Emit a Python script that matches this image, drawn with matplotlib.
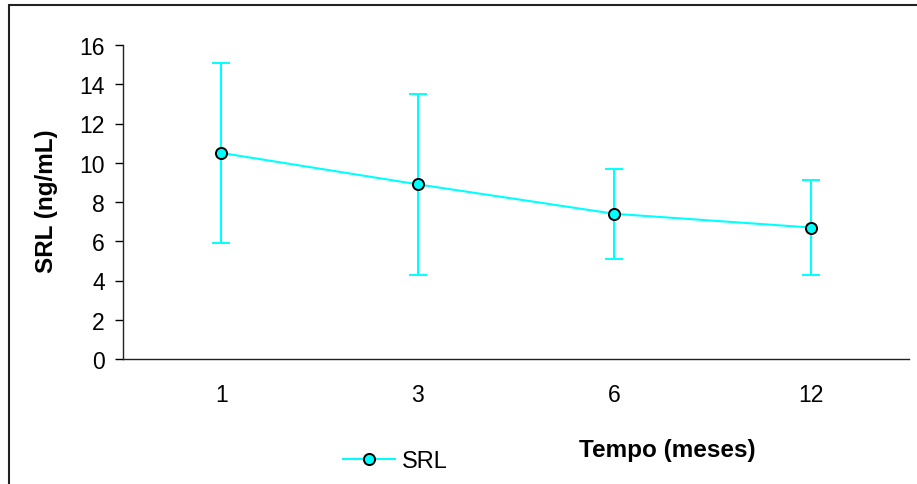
import matplotlib
matplotlib.use("Agg")
import matplotlib.pyplot as plt
from matplotlib.patches import Rectangle
from matplotlib.lines import Line2D

# data
months = ["1", "3", "6", "12"]
srl_mean = [10.5, 8.9, 7.4, 6.7]
srl_err = [4.6, 4.6, 2.3, 2.4]
yticks = [0, 2, 4, 6, 8, 10, 12, 14, 16]

cyan = "#00FFFF"
plt.rcParams["font.family"] = ["Liberation Sans", "DejaVu Sans"]

W, H = 917, 485
fig = plt.figure(figsize=(W / 100, H / 100), dpi=100)
ax = fig.add_axes([123 / W, 1 - 360 / H, (909 - 123) / W, (360 - 46) / H])

x = list(range(len(months)))
ax.errorbar(x, srl_mean, yerr=srl_err, color=cyan, lw=1.5, ecolor=cyan,
            elinewidth=1.5, capsize=6.5, capthick=1.5,
            marker="o", ms=8, mfc=cyan, mec="black", mew=1.4, zorder=3)

ax.set_xlim(-0.5, 3.5)
ax.set_ylim(0, 16)
ax.set_xticks(x)
ax.set_xticklabels(months)
ax.set_yticks(yticks)
ax.tick_params(axis="x", length=0, pad=17, labelsize=16.5)
ax.tick_params(axis="y", length=6, width=1, pad=7, labelsize=16.5, direction="out")
for s in ["top", "right"]:
    ax.spines[s].set_visible(False)
for s in ["left", "bottom"]:
    ax.spines[s].set_linewidth(1)
    ax.spines[s].set_color("#222222")

fig.text(47 / W, 1 - 201 / H, "SRL (ng/mL)", rotation=90, ha="center",
         va="center", fontsize=17.5, fontweight="bold")
fig.text(667 / W, 1 - 451 / H, "Tempo (meses)", ha="center", va="center",
         fontsize=17.5, fontweight="bold")

handle = Line2D([], [], color=cyan, lw=1.5, marker="o", ms=8, mfc=cyan,
                mec="black", mew=1.4)
fig.legend([handle], ["SRL"], loc="center left",
           bbox_to_anchor=(343 / W, 1 - 462 / H), frameon=False,
           fontsize=17, handlelength=2.2, handletextpad=0.3,
           borderpad=0, borderaxespad=0)

# outer frame (only top and left edges visible in the reference)
fig.patches.append(Rectangle((9 / W, -0.2), 1.2, 1.2 - 6 / H,
                             transform=fig.transFigure, fill=False,
                             ec="#222222", lw=1.5))

fig.savefig("out.png", dpi=100)
